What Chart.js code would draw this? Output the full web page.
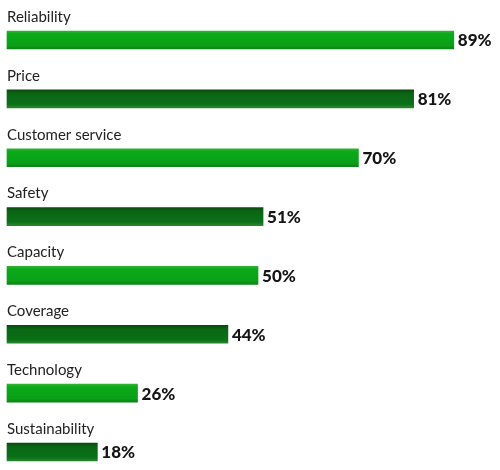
<!DOCTYPE html>
<html>
<head>
<meta charset="utf-8">
<script src="https://cdn.jsdelivr.net/npm/chart.js@4/dist/chart.umd.min.js"></script>
<style>
  html, body { margin: 0; padding: 0; background: #fff; }
  #wrap { width: 500px; height: 470px; }
</style>
</head>
<body>
<div id="wrap"><canvas id="grafica" width="500" height="470"></canvas></div>
<script>
const categorias = ['Reliability', 'Price', 'Customer service', 'Safety', 'Capacity', 'Coverage', 'Technology', 'Sustainability'];
const porcentajes = [89, 81, 70, 51, 50, 44, 26, 18];

// vertical gradient per bar, alternating light and dark green
function colorBarra(c) {
  const claro = c.dataIndex % 2 === 0;
  const plano = claro ? '#0aa81a' : '#0a6c16';
  const chart = c.chart;
  const escala = chart.scales && chart.scales.y;
  if (!escala) return plano;
  const y = escala.getPixelForValue(c.dataIndex);
  if (!isFinite(y)) return plano;
  const h = 18;
  const g = chart.ctx.createLinearGradient(0, y - h / 2, 0, y + h / 2);
  if (claro) {
    g.addColorStop(0, '#34b034');
    g.addColorStop(0.15, '#0aaa1a');
    g.addColorStop(0.8, '#0aa018');
    g.addColorStop(1, '#0a8414');
  } else {
    g.addColorStop(0, '#0a4a10');
    g.addColorStop(0.2, '#0a6614');
    g.addColorStop(0.8, '#0b7018');
    g.addColorStop(1, '#2a862e');
  }
  return g;
}

const etiquetas = {
  id: 'etiquetas',
  afterDatasetsDraw(chart) {
    const ctx = chart.ctx;
    const meta = chart.getDatasetMeta(0);
    ctx.save();
    meta.data.forEach((bar, i) => {
      ctx.textBaseline = 'middle';
      ctx.textAlign = 'left';
      ctx.fillStyle = '#222';
      ctx.font = '15px Lato, "Open Sans", sans-serif';
      ctx.fillText(categorias[i], 7, bar.y - 23);
      ctx.font = '900 17px Lato, "Open Sans", sans-serif';
      ctx.fillStyle = '#151515';
      ctx.fillText(porcentajes[i] + '%', bar.x + 4, bar.y + 1);
    });
    ctx.restore();
  }
};

new Chart(document.getElementById('grafica'), {
  type: 'bar',
  data: {
    labels: categorias,
    datasets: [{
      data: porcentajes,
      backgroundColor: colorBarra,
      borderWidth: 0,
      barThickness: 18,
      clip: false
    }]
  },
  options: {
    indexAxis: 'y',
    responsive: false,
    animation: false,
    layout: { padding: { left: 7, right: 1, top: 40, bottom: 18 } },
    plugins: { legend: { display: false }, tooltip: { enabled: false } },
    scales: {
      x: { display: false, min: 0, max: 98 },
      y: { display: false, offset: false, grid: { display: false } }
    }
  },
  plugins: [etiquetas]
});
</script>
</body>
</html>
